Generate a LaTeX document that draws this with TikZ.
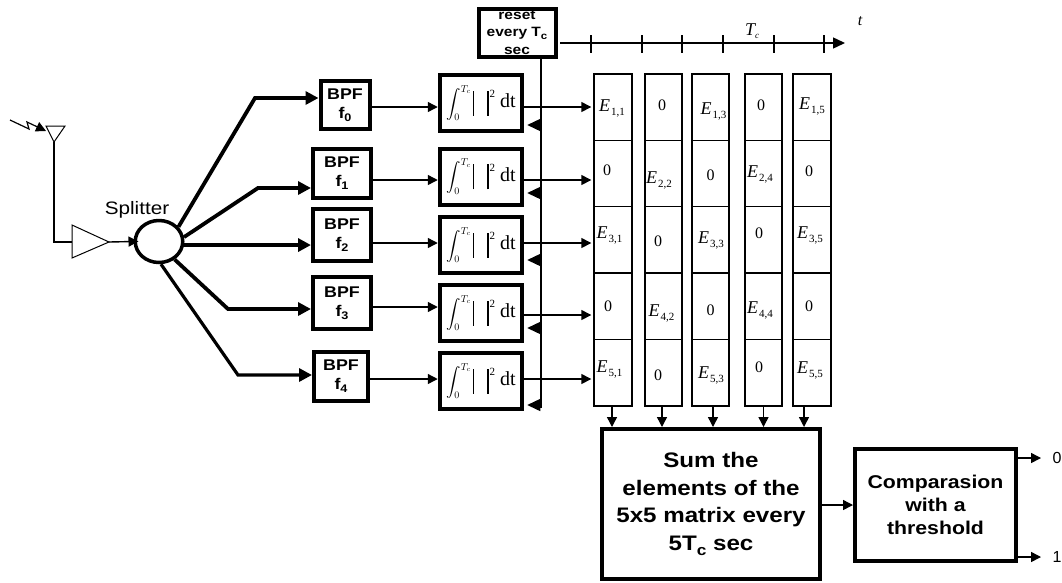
\documentclass[tikz,border=0pt]{standalone}
\usepackage{amsmath}
\usepackage{fontspec}
\setmainfont{Liberation Sans}
\newfontfamily\widefont[FakeStretch=1.15]{Liberation Sans}
\newfontfamily\timesfont{Liberation Serif}
\usetikzlibrary{positioning,arrows.meta,shapes.geometric}
\newcommand{\elem}[1]{{\timesfont\itshape\fontsize{18}{18}\selectfont E}\kern1pt\raisebox{-4pt}{\timesfont\fontsize{11}{11}\selectfont #1}}
\newcommand{\cellE}[3]{\smash{\makebox[0pt]{\kern#1pt\kern#1pt\raisebox{\dimexpr-#2pt-6pt\relax}{\elem{#3}}}}}
\newcommand{\cellO}[2]{\smash{\makebox[0pt]{\kern#1pt\kern#1pt\raisebox{\dimexpr-#2pt-5pt\relax}{\timesfont\fontsize{16}{16}\selectfont 0}}}}
\newcommand{\lowsub}[3]{\raisebox{-#2pt}{\fontsize{#1}{#1}\selectfont #3}}
\newcommand{\integ}{{\fontsize{14}{14}\selectfont$\displaystyle\int_0^{T_c}$}\kern2pt\rule[-8pt]{1.2pt}{25pt}\kern13pt\rule[-8pt]{1.2pt}{25pt}\kern1pt\raisebox{10pt}{\timesfont\fontsize{11}{11}\selectfont 2}\kern5pt{\timesfont\fontsize{20}{20}\selectfont dt}}

\begin{document}
\begin{tikzpicture}[
    x=1pt, y=-1pt,
    bpf/.style={
        draw,
        line width=4pt,
        minimum width=58pt,
        minimum height=52pt,
        align=center,
        inner sep=0pt,
        font=\widefont\bfseries\fontsize{15.5}{19}\selectfont
    },
    integ/.style={
        draw,
        line width=4pt,
        minimum width=82.5pt,
        minimum height=56pt,
        inner sep=0pt
    },
    cell/.style={
        draw,
        line width=1.4pt,
        minimum width=37pt,
        minimum height=66.4pt,
        inner sep=0pt
    },
    bigbox/.style={
        draw,
        line width=4pt,
        align=center,
        inner sep=0pt,
        font=\widefont\bfseries
    },
    arr/.style={
        -{Triangle[length=10pt,width=10pt]},
        line width=1.4pt
    },
    fatarr/.style={
        -{Triangle[length=13pt,width=13pt]},
        line width=3.8pt
    },
    rst/.style={
        -{Triangle[length=13pt,width=12pt]},
        line width=1.4pt,
        shorten >=3pt
    }
]
\useasboundingbox (0,0) rectangle (1062,582);

% antenna and amplifier
\coordinate (anttip) at (54,142);
\coordinate (ampin) at (72,242);
\coordinate (ampout) at (109,242);
\draw[line width=1pt] (46,126) -- (65,126) -- (anttip) -- cycle;
\draw[line width=1pt] (ampin |- 0,225) -- (ampout) -- (ampin |- 0,258) -- cycle;
\draw[line width=1.4pt] (anttip) |- (ampin);
\draw[-{Triangle[length=10pt,width=10pt]}, line width=1.2pt] (10,120) -- (29,129) -- (27,122) -- (46,131);

% splitter
\node[draw, ellipse, line width=3.5pt, minimum width=47.5pt, minimum height=42pt, inner sep=0pt] (split) at (159,241.5) {};
\node[font=\widefont\fontsize{18}{18}\selectfont] (splitlab) at (137,210) {Splitter};
\draw[arr, shorten >=-5pt] (ampout) -- (split.west);

% filters
\node[bpf, minimum width=49pt, minimum height=48pt] (f0) at (345,105) {BPF\\f\lowsub{11}{3}{0}};
\node[bpf, minimum height=49pt] (f1) at (342,173.5) {BPF\\f\lowsub{11}{3}{1}};
\node[bpf] (f2) at (342,235) {BPF\\f\lowsub{11}{3}{2}};
\node[bpf] (f3) at (342,303) {BPF\\f\lowsub{11}{3}{3}};
\node[bpf, minimum width=54pt, minimum height=49pt] (f4) at (341,376.5) {BPF\\f\lowsub{11}{3}{4}};

\coordinate (b0) at (255,98);
\coordinate (b1) at (258,188);
\coordinate (b3) at (228,309);
\coordinate (b4) at (238,375);
\draw[fatarr] (split.37) -- (b0) -- (b0 -| f0.west);
\draw[fatarr] (split.10) -- (b1) -- (b1 -| f1.west);
\draw[fatarr] (split.-8) -- (split.-8 -| f2.west);
\draw[fatarr] (split.-49) -- (b3) -- (b3 -| f3.west);
\draw[fatarr, line width=3.2pt] (split.-85) -- (b4) -- (b4 -| f4.west);

% integrators
\node[integ] (i0) at (481,103) {\integ};
\node[integ] (i1) at (481,176.5) {\integ};
\node[integ] (i2) at (481,245) {\integ};
\node[integ] (i3) at (481,313) {\integ};
\node[integ] (i4) at (481,381) {\integ};
\coordinate (a0) at (400,107);
\coordinate (a1) at (400,180);
\coordinate (a2) at (400,243);
\coordinate (a3) at (400,307);
\coordinate (a4) at (400,379);
\draw[arr] (f0.east |- a0) -- (i0.west |- a0);
\draw[arr] (f1.east |- a1) -- (i1.west |- a1);
\draw[arr] (f2.east |- a2) -- (i2.west |- a2);
\draw[arr] (f3.east |- a3) -- (i3.west |- a3);
\draw[arr] (f4.east |- a4) -- (i4.west |- a4);

% reset
\node[bigbox, minimum width=77pt, minimum height=48pt, font=\widefont\bfseries\fontsize{13.5}{17.5}\selectfont] (reset) at (517,32.5) {reset\\every T\lowsub{10}{3}{c}\\sec};
\coordinate (busend) at (541,408);
\draw[line width=1.6pt] (reset.south -| busend) -- (busend);
\coordinate (r0) at (541,125);
\coordinate (r1) at (541,193);
\coordinate (r2) at (541,260);
\coordinate (r3) at (541,328);
\coordinate (r4) at (541,405);
\draw[rst] (r0) -- (r0 -| i0.east);
\draw[rst] (r1) -- (r1 -| i1.east);
\draw[rst] (r2) -- (r2 -| i2.east);
\draw[rst] (r3) -- (r3 -| i3.east);
\draw[rst] (r4) -- (r4 -| i4.east);

% time axis
\coordinate (t0) at (560,43);
\coordinate (t1) at (845,43);
\draw[-{Triangle[length=12pt,width=11pt]}, line width=1.4pt] (t0) -- (t1);
\draw[line width=1.4pt] (591,35) -- (591,53);
\draw[line width=1.4pt] (642,35) -- (642,53);
\draw[line width=1.4pt] (682,35) -- (682,53);
\draw[line width=1.6pt] (723,35) -- (723,53);
\draw[line width=1.6pt] (774,35) -- (774,53);
\draw[line width=1.4pt] (824,35) -- (824,53);
\node[font=\timesfont\itshape\fontsize{18}{18}\selectfont] (tclab) at (752,31) {T\raisebox{-3pt}{\fontsize{9}{9}\selectfont c}};
\node[font=\timesfont\itshape\fontsize{16}{16}\selectfont] (tlab) at (860,21) {t};

% matrix
\node[cell, minimum width=38pt] (e11) at (613,107) {\cellE{-1}{-2}{1,1}};
\node[cell, minimum width=38pt] (e21) at (613,173.4) {\cellO{-6}{-2.5}};
\node[cell, minimum width=38pt] (e31) at (613,239.8) {\cellE{-3.5}{-7}{3,1}};
\node[cell, minimum width=38pt] (e41) at (613,306.2) {\cellO{-5}{0}};
\node[cell, minimum width=38pt] (e51) at (613,372.6) {\cellE{-3.5}{-6.5}{5,1}};
\node[cell] (e12) at (663.5,107) {\cellO{-1.5}{-2}};
\node[cell] (e22) at (663.5,173.4) {\cellE{-4.5}{4.5}{2,2}};
\node[cell] (e32) at (663.5,239.8) {\cellO{-5.5}{2}};
\node[cell] (e42) at (663.5,306.2) {\cellE{-2}{4}{4,2}};
\node[cell] (e52) at (663.5,372.6) {\cellO{-5.5}{2.5}};
\node[cell] (e13) at (710.5,107) {\cellE{3}{1}{1,3}};
\node[cell] (e23) at (710.5,173.4) {\cellO{0}{2.5}};
\node[cell] (e33) at (710.5,239.8) {\cellE{0.5}{-2}{3,3}};
\node[cell] (e43) at (710.5,306.2) {\cellO{0}{4}};
\node[cell] (e53) at (710.5,372.6) {\cellE{0.5}{0}{5,3}};
\node[cell] (e14) at (763.5,107) {\cellO{-2.5}{-2}};
\node[cell] (e24) at (763.5,173.4) {\cellE{-3.5}{-1.5}{2,4}};
\node[cell] (e34) at (763.5,239.8) {\cellO{-4.5}{-6}};
\node[cell] (e44) at (763.5,306.2) {\cellE{-3.5}{1}{4,4}};
\node[cell] (e54) at (763.5,372.6) {\cellO{-4.5}{-5.5}};
\node[cell, minimum width=38pt] (e15) at (812,107) {\cellE{0}{-4}{1,5}};
\node[cell, minimum width=38pt] (e25) at (812,173.4) {\cellO{-3}{-1.5}};
\node[cell, minimum width=38pt] (e35) at (812,239.8) {\cellE{-2}{-7}{3,5}};
\node[cell, minimum width=38pt] (e45) at (812,306.2) {\cellO{-3}{0}};
\node[cell, minimum width=38pt] (e55) at (812,372.6) {\cellE{-2}{-5.5}{5,5}};
\coordinate (c0) at (560,107);
\coordinate (c1) at (560,180);
\coordinate (c2) at (560,243);
\coordinate (c3) at (560,315);
\coordinate (c4) at (560,379);
\draw[arr] (i0.east |- c0) -- ([xshift=-2pt]e11.west |- c0);
\draw[arr] (i1.east |- c1) -- ([xshift=-2pt]e21.west |- c1);
\draw[arr] (i2.east |- c2) -- ([xshift=-2pt]e31.west |- c2);
\draw[arr] (i3.east |- c3) -- ([xshift=-2pt]e41.west |- c3);
\draw[arr] (i4.east |- c4) -- ([xshift=-2pt]e51.west |- c4);

% sum and comparison
\node[bigbox, minimum width=218pt, minimum height=150pt, font=\widefont\bfseries\fontsize{21}{27.5}\selectfont] (sum) at (711,504) {Sum the\\elements of the\\5x5 matrix every\\5T\lowsub{15}{5}{c} sec};
\node[bigbox, minimum width=161pt, minimum height=112pt, font=\widefont\bfseries\fontsize{18.5}{23}\selectfont] (comp) at (935.5,505) {Comparasion\\with a\\threshold};
\draw[arr] ([xshift=-1pt]e51.south) -- ([xshift=-1pt]e51.south |- sum.north);
\draw[arr] ([xshift=-1.5pt]e52.south) -- ([xshift=-1.5pt]e52.south |- sum.north);
\draw[arr] ([xshift=2.5pt]e53.south) -- ([xshift=2.5pt]e53.south |- sum.north);
\draw[arr] (e54.south) -- (e54.south |- sum.north);
\draw[arr] ([xshift=-8pt]e55.south) -- ([xshift=-8pt]e55.south |- sum.north);
\draw[arr] (sum.east |- comp.west) -- (comp.west);
\node[font=\fontsize{16}{16}\selectfont] (out0) at (1057,458) {0};
\node[font=\fontsize{16}{16}\selectfont] (out1) at (1057,557) {1};
\draw[arr] (comp.east |- out0) -- ([xshift=-8pt]out0.west);
\draw[arr] (comp.east |- out1) -- ([xshift=-8pt]out1.west);
\end{tikzpicture}
\end{document}
